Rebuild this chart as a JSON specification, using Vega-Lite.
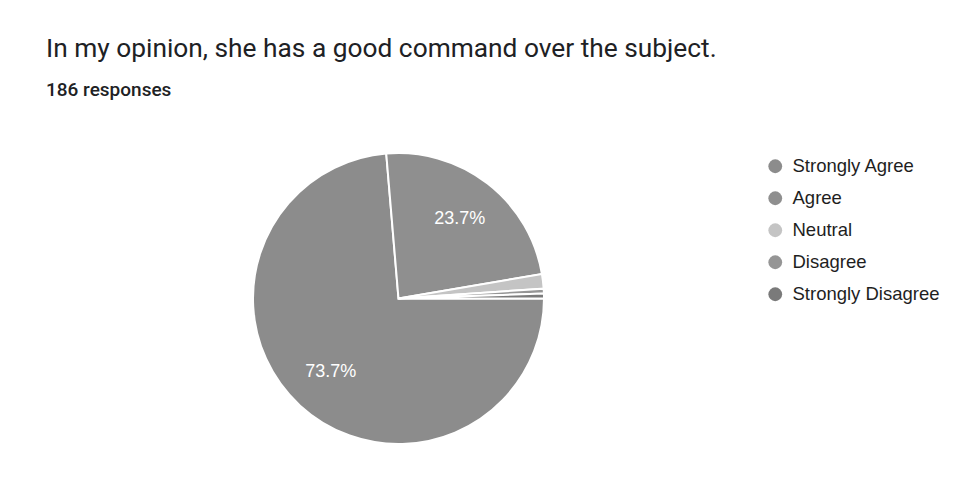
{
  "$schema": "https://vega.github.io/schema/vega-lite/v6.json",
  "autosize": "none",
  "width": 291,
  "height": 291,
  "padding": {"left": 253, "top": 153, "right": 436, "bottom": 59},
  "background": "white",
  "title": {
    "text": "In my opinion, she has a good command over the subject.",
    "subtitle": "186 responses",
    "anchor": "start",
    "frame": "group",
    "dx": -207,
    "offset": 49,
    "font": "Roboto",
    "fontSize": 26.3,
    "fontWeight": "normal",
    "color": "#202124",
    "subtitleFont": "Roboto",
    "subtitleFontSize": 19,
    "subtitleFontWeight": 500,
    "subtitleColor": "#202124",
    "subtitlePadding": 19
  },
  "data": {
    "values": [
      {"answer": "Strongly Agree", "count": 137, "rank": 1, "label": "73.7%"},
      {"answer": "Agree", "count": 44, "rank": 2, "label": "23.7%"},
      {"answer": "Neutral", "count": 3, "rank": 3, "label": ""},
      {"answer": "Disagree", "count": 1, "rank": 4, "label": ""},
      {"answer": "Strongly Disagree", "count": 1, "rank": 5, "label": ""}
    ]
  },
  "encoding": {
    "theta": {"field": "count", "type": "quantitative", "stack": true, "scale": {"range": [1.5708, 7.854]}},
    "order": {"field": "rank", "type": "quantitative"}
  },
  "layer": [
    {
      "mark": {"type": "arc", "stroke": "white", "strokeWidth": 2},
      "encoding": {
        "color": {
          "field": "answer",
          "type": "nominal",
          "sort": ["Strongly Agree", "Agree", "Neutral", "Disagree", "Strongly Disagree"],
          "scale": {
            "domain": ["Strongly Agree", "Agree", "Neutral", "Disagree", "Strongly Disagree"],
            "range": ["#8c8c8c", "#8f8f8f", "#c4c4c4", "#959595", "#7a7a7a"]
          },
          "legend": {
            "title": null,
            "orient": "none",
            "legendX": 513,
            "legendY": 4,
            "symbolType": "circle",
            "symbolSize": 190,
            "symbolStrokeWidth": 0,
            "labelFont": "Liberation Sans",
            "labelFontSize": 18.5,
            "labelColor": "#1e1e1e",
            "labelOffset": 8,
            "rowPadding": 13,
            "labelLimit": 300
          }
        }
      }
    },
    {
      "mark": {"type": "text", "radius": 100, "font": "Liberation Sans", "fontSize": 18, "fill": "white"},
      "encoding": {
        "text": {"field": "label"}
      }
    }
  ]
}
